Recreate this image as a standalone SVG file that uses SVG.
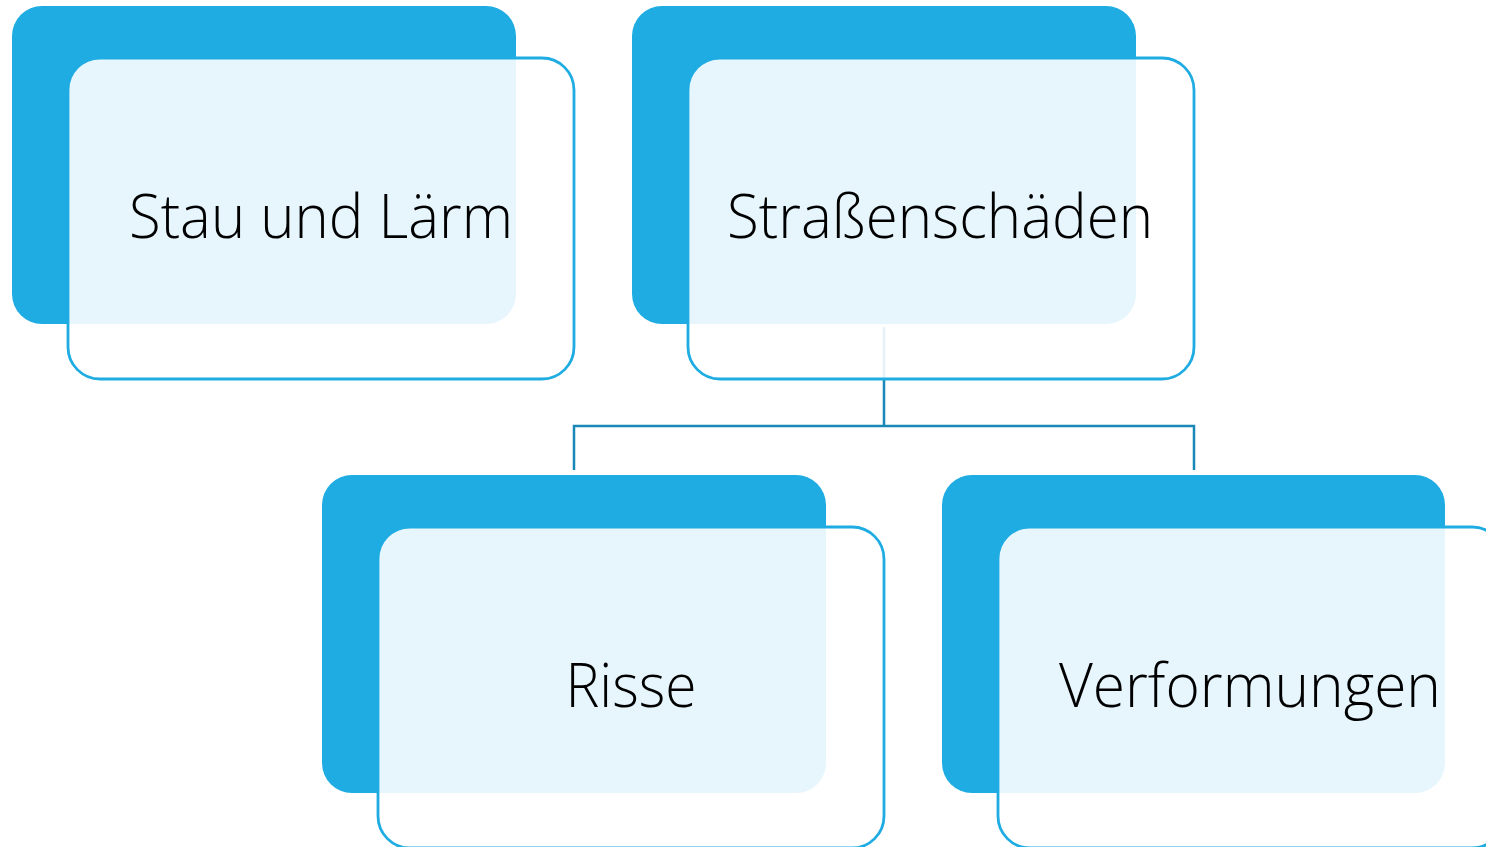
<svg xmlns="http://www.w3.org/2000/svg" width="1486" height="847" viewBox="0 0 1486 847">
<style>
.back{fill:#1EACE2}
.front{fill:#ffffff;fill-opacity:0.89;stroke:#1EACE2;stroke-width:2.8}
.lbl{font-family:"Open Sans","Noto Sans","Liberation Sans",sans-serif;font-weight:350;font-size:60px;fill:#000;text-anchor:middle}
.conn{fill:none;stroke:#1A88B6;stroke-width:2.5}
</style>
<rect width="1486" height="847" fill="#ffffff"/>
<g id="connectors">
<path class="conn" d="M884 327 V426 M574 470 V426 H1194 V470"/>
</g>
<g id="node-stau">
<rect class="back" x="12" y="6" width="504" height="318" rx="30"/>
<rect class="front" x="68" y="58" width="506" height="321" rx="32"/>
<text class="lbl" x="321" y="238" textLength="384" lengthAdjust="spacingAndGlyphs">Stau und Lärm</text>
</g>
<g id="node-strassen">
<rect class="back" x="632" y="6" width="504" height="318" rx="30"/>
<rect class="front" x="688" y="58" width="506" height="321" rx="32"/>
<text class="lbl" x="940" y="238" textLength="426" lengthAdjust="spacingAndGlyphs">Straßenschäden</text>
</g>
<g id="node-risse">
<rect class="back" x="322" y="475" width="504" height="318" rx="30"/>
<rect class="front" x="378" y="527" width="506" height="321" rx="32"/>
<text class="lbl" x="631" y="707" textLength="131" lengthAdjust="spacingAndGlyphs">Risse</text>
</g>
<g id="node-verformungen">
<rect class="back" x="942" y="475" width="503" height="318" rx="30"/>
<rect class="front" x="998" y="527" width="506" height="321" rx="32"/>
<text class="lbl" x="1250" y="707" textLength="382" lengthAdjust="spacingAndGlyphs">Verformungen</text>
</g>
</svg>
